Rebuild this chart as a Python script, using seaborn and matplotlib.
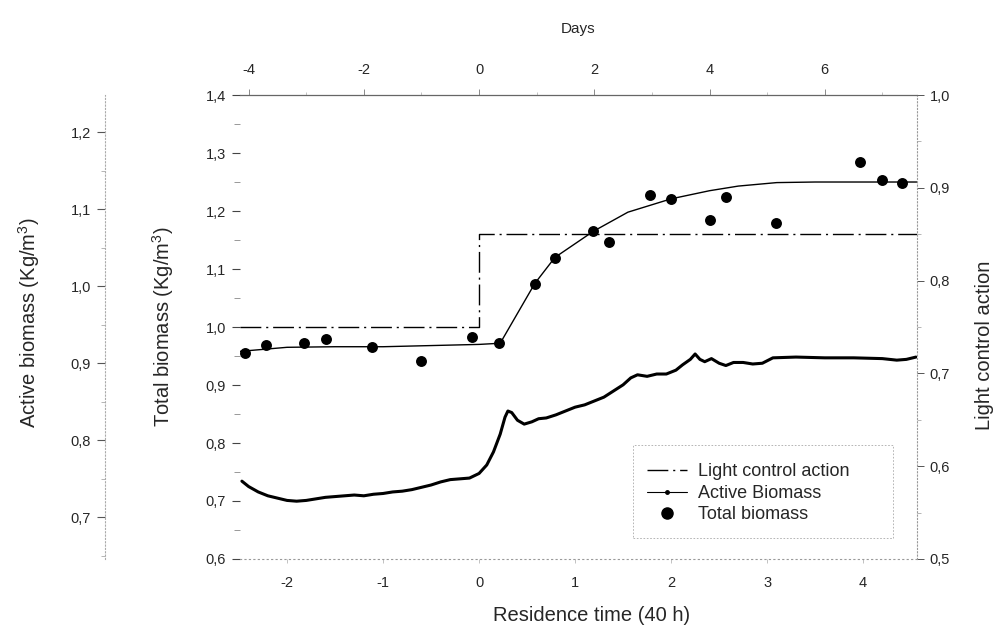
import numpy as np
import pandas as pd
import matplotlib
matplotlib.use("Agg")
import matplotlib.pyplot as plt
import seaborn as sns
from matplotlib.ticker import FuncFormatter, MultipleLocator, FixedLocator
from matplotlib.lines import Line2D
from matplotlib.patches import Rectangle

# ---------------- data ----------------
total_t = [-2.44, -2.22, -1.82, -1.59, -1.11, -0.60, -0.07, 0.21, 0.58, 0.79,
           1.19, 1.35, 1.78, 2.00, 2.40, 2.57, 3.09, 3.97, 4.20, 4.40]
total_val = [0.956, 0.969, 0.972, 0.979, 0.966, 0.941, 0.983, 0.972, 1.075, 1.119,
             1.166, 1.147, 1.228, 1.221, 1.184, 1.225, 1.179, 1.285, 1.253, 1.248]

fit_t = [-2.49, -2.0, -1.5, -1.0, -0.5, 0.0, 0.22, 0.58, 0.79, 1.19, 1.55,
         2.0, 2.4, 2.7, 3.1, 3.5, 4.56]
fit_val = [0.958, 0.965, 0.966, 0.966, 0.968, 0.970, 0.972, 1.075, 1.12, 1.165,
           1.198, 1.221, 1.235, 1.243, 1.249, 1.25, 1.25]

light_t = [-2.49, 0.0, 0.0, 4.56]
light_val = [0.75, 0.75, 0.85, 0.85]

active_t = [-2.47, -2.40, -2.30, -2.20, -2.10, -2.00, -1.90, -1.80, -1.70, -1.60,
            -1.50, -1.40, -1.30, -1.20, -1.10, -1.00, -0.90, -0.80, -0.70, -0.60,
            -0.50, -0.40, -0.30, -0.20, -0.10, 0.00, 0.08, 0.15, 0.22, 0.27,
            0.30, 0.34, 0.40, 0.47, 0.55, 0.62, 0.70, 0.80, 0.90, 1.00,
            1.10, 1.20, 1.30, 1.40, 1.50, 1.58, 1.65, 1.75, 1.85, 1.95,
            2.05, 2.12, 2.20, 2.25, 2.30, 2.35, 2.42, 2.50, 2.57, 2.65,
            2.75, 2.85, 2.95, 3.06, 3.30, 3.60, 3.90, 4.20, 4.35, 4.45, 4.55]
active_val = [0.747, 0.740, 0.733, 0.728, 0.725, 0.722, 0.721, 0.722, 0.724, 0.726,
              0.727, 0.728, 0.729, 0.728, 0.730, 0.731, 0.733, 0.734, 0.736, 0.739,
              0.742, 0.746, 0.749, 0.750, 0.751, 0.757, 0.768, 0.785, 0.808, 0.830,
              0.838, 0.836, 0.826, 0.821, 0.824, 0.828, 0.829, 0.833, 0.838, 0.843,
              0.846, 0.851, 0.856, 0.864, 0.872, 0.881, 0.885, 0.883, 0.886, 0.886,
              0.891, 0.898, 0.905, 0.912, 0.905, 0.902, 0.906, 0.900, 0.897, 0.901,
              0.901, 0.899, 0.900, 0.907, 0.908, 0.907, 0.907, 0.906, 0.904, 0.905, 0.908]

res_ticks = [-2, -1, 0, 1, 2, 3, 4]
day_ticks = [-4, -2, 0, 2, 4, 6]
total_ticks = [0.6, 0.7, 0.8, 0.9, 1.0, 1.1, 1.2, 1.3, 1.4]
light_ticks = [0.5, 0.6, 0.7, 0.8, 0.9, 1.0]
active_ticks = [0.7, 0.8, 0.9, 1.0, 1.1, 1.2]

# ---------------- style ----------------
sns.set_theme(style="white")
plt.rcParams["font.family"] = ["Liberation Sans", "DejaVu Sans"]
plt.rcParams["mathtext.fontset"] = "custom"
plt.rcParams["mathtext.rm"] = "Liberation Sans"
plt.rcParams["mathtext.it"] = "Liberation Sans:italic"
plt.rcParams["axes.grid"] = False

TICK_FS = 10.5
LAB_FS = 14.5
comma = FuncFormatter(lambda v, p: f"{v:.1f}".replace(".", ","))
intfmt = FuncFormatter(lambda v, p: f"{int(round(v))}")

fig = plt.figure(figsize=(9.97, 6.39), dpi=100)
ax = fig.add_axes([0.2407, 0.1252, 0.6790, 0.7261])
ax.set_facecolor("none")
axr = ax.twinx()
axo = ax.twinx()
axt = ax.twiny()

XLIM = (-2.49, 4.56)
DLIM = (-4.15, 7.60)

# --- main: total biomass ---
sns.lineplot(x=fit_t, y=fit_val, ax=ax, color="black", lw=1.0,
             estimator=None, sort=False)
sns.scatterplot(x=total_t, y=total_val, ax=ax, color="black", s=62,
                edgecolor="black", linewidth=0, zorder=5)
ax.set_xlim(*XLIM)
ax.set_ylim(0.6, 1.4)
ax.xaxis.set_major_locator(FixedLocator(res_ticks))
ax.xaxis.set_major_formatter(intfmt)
ax.yaxis.set_major_locator(FixedLocator(total_ticks))
ax.yaxis.set_minor_locator(MultipleLocator(0.05))
ax.yaxis.set_major_formatter(comma)
ax.tick_params(axis="y", which="major", direction="out", length=6, width=0.8,
               color="#444", labelsize=TICK_FS, pad=4, left=True)
ax.tick_params(axis="y", which="minor", direction="out", length=4, width=0.6,
               color="#888", left=True)
ax.tick_params(axis="x", which="major", direction="out", length=3, width=0.5,
               color="#aaa", labelsize=TICK_FS, pad=9, bottom=True)
for s in ["left", "top", "right"]:
    ax.spines[s].set_visible(False)
ax.spines["bottom"].set_color("#999")
ax.spines["bottom"].set_linestyle((0, (1, 3)))
ax.spines["bottom"].set_linewidth(0.8)
ax.set_xlabel("Residence time (40 h)", fontsize=LAB_FS)
ax.xaxis.set_label_coords(0.52, -0.102)
ax.set_ylabel("Total biomass (Kg/m$^{3}$)", fontsize=LAB_FS)
ax.yaxis.set_label_coords(-0.094, 0.5)

# --- right: light control action ---
sns.lineplot(x=light_t, y=light_val, ax=axr, color="black", lw=1.0,
             estimator=None, sort=False, linestyle=(0, (15, 3.5, 1.5, 3.5)))
axr.set_ylim(0.5, 1.0)
axr.yaxis.set_major_locator(FixedLocator(light_ticks))
axr.yaxis.set_minor_locator(MultipleLocator(0.05))
axr.yaxis.set_major_formatter(comma)
axr.tick_params(axis="y", which="major", direction="out", length=5, width=0.7,
                color="#555", labelsize=TICK_FS, pad=4, right=True)
axr.tick_params(axis="y", which="minor", direction="out", length=3, width=0.5,
                color="#999", right=True)
for s in ["left", "top", "bottom"]:
    axr.spines[s].set_visible(False)
axr.spines["right"].set_color("#999")
axr.spines["right"].set_linestyle((0, (1, 2)))
axr.spines["right"].set_linewidth(0.8)
axr.set_ylabel("Light control action", fontsize=LAB_FS)
axr.yaxis.set_label_coords(1.086, 0.46)

# --- outer left: active biomass ---
sns.lineplot(x=active_t, y=active_val, ax=axo, color="black", lw=2.2,
             estimator=None, sort=False)
axo.set_ylim(0.646, 1.248)
axo.spines["left"].set_position(("axes", -0.1994))
axo.spines["left"].set_visible(True)
axo.yaxis.set_ticks_position("left")
axo.yaxis.set_label_position("left")
axo.yaxis.set_major_locator(FixedLocator(active_ticks))
axo.yaxis.set_minor_locator(MultipleLocator(0.05))
axo.yaxis.set_major_formatter(comma)
axo.tick_params(axis="y", which="major", direction="out", length=6, width=0.8,
                color="#555", labelsize=TICK_FS, pad=4)
axo.tick_params(axis="y", which="minor", direction="out", length=3, width=0.5,
                color="#999")
for s in ["right", "top", "bottom"]:
    axo.spines[s].set_visible(False)
axo.spines["left"].set_color("#aaa")
axo.spines["left"].set_linestyle((0, (1, 2)))
axo.spines["left"].set_linewidth(0.8)
axo.set_ylabel("Active biomass (Kg/m$^{3}$)", fontsize=LAB_FS)
axo.yaxis.set_label_coords(-0.293, 0.51)

# --- top: days ---
axt.set_xlim(*DLIM)
axt.xaxis.set_major_locator(FixedLocator(day_ticks))
axt.xaxis.set_minor_locator(MultipleLocator(1))
axt.xaxis.set_major_formatter(intfmt)
axt.tick_params(axis="x", which="major", direction="out", length=4, width=0.6,
                color="#777", labelsize=TICK_FS, pad=9, top=True)
axt.tick_params(axis="x", which="minor", direction="out", length=2, width=0.5,
                color="#aaa", top=True)
for s in ["left", "right", "bottom"]:
    axt.spines[s].set_visible(False)
axt.spines["top"].set_color("#666")
axt.spines["top"].set_linewidth(0.9)
axt.set_xlabel("Days", fontsize=11)
axt.xaxis.set_label_coords(0.50, 1.134)

# --- legend ---
handles = [
    Line2D([], [], color="black", lw=1.0, linestyle=(0, (15, 3.5, 1.5, 3.5))),
    Line2D([], [], color="black", lw=0.8, marker=".", markersize=5),
    Line2D([], [], color="black", lw=0, marker="o", markersize=8),
]
labels = ["Light control action", "Active Biomass", "Total biomass"]
W, H = 997.0, 639.0
leg = fig.legend(handles, labels, loc="upper left",
                 bbox_to_anchor=(633 / W, 1 - 449 / H), fontsize=13,
                 frameon=False, handlelength=2.2,
                 labelspacing=0.25, borderpad=0.8, handletextpad=0.6,
                 borderaxespad=0)
fig.add_artist(Rectangle((633 / W, 1 - 538 / H), (893 - 633) / W, (538 - 445) / H,
                         transform=fig.transFigure, fill=False,
                         edgecolor="#aaa", linewidth=0.6,
                         linestyle=(0, (2, 2))))

fig.savefig("out.png", dpi=100, facecolor="white")
